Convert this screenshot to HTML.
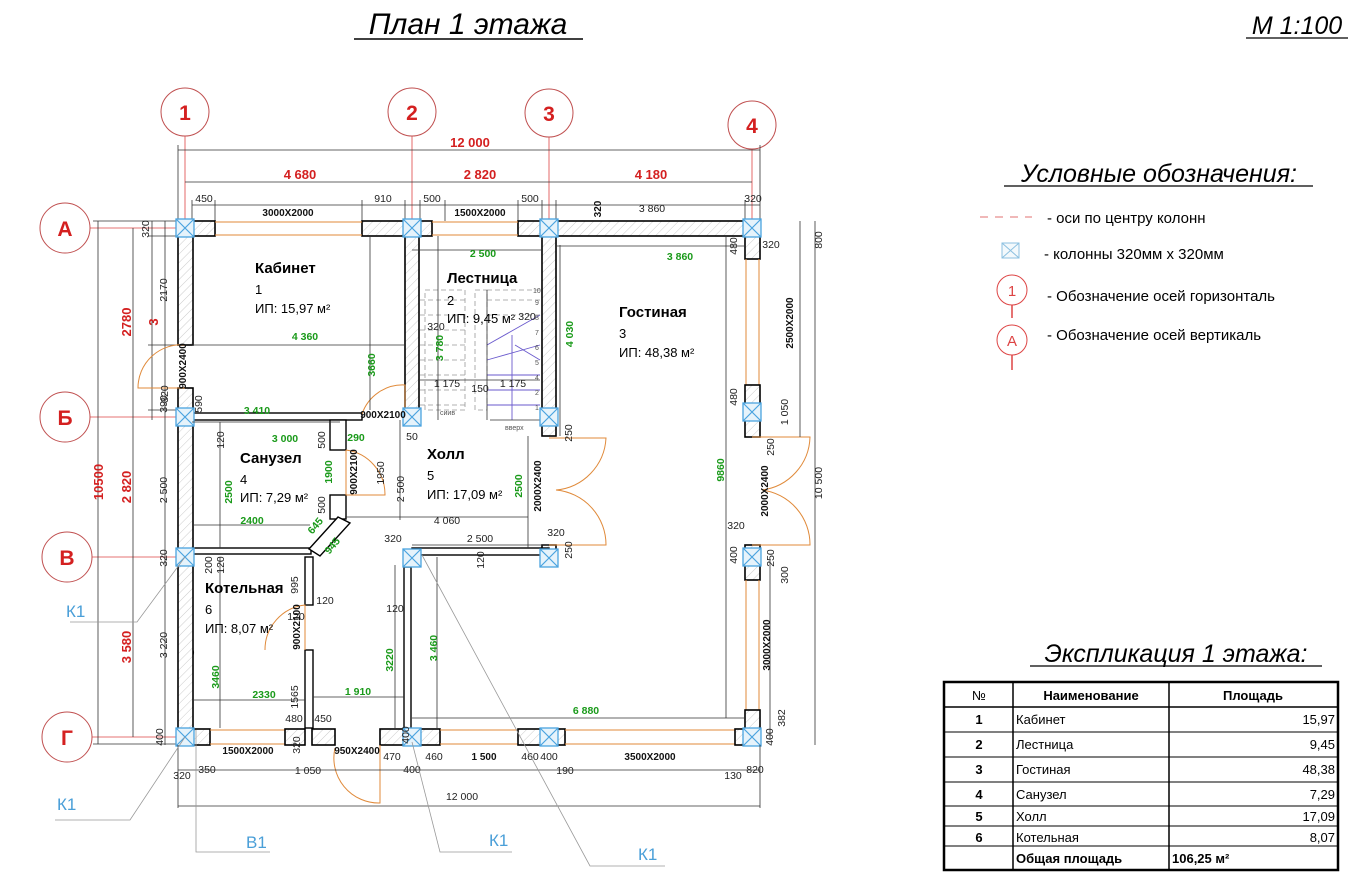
<!DOCTYPE html>
<html><head><meta charset="utf-8"><style>
body{margin:0;background:#fff;}
svg{display:block;font-family:"Liberation Sans",sans-serif;}
.w{fill:url(#h);stroke:#000;stroke-width:1.6}
.wt{fill:#fff;stroke:#000;stroke-width:1.4}
.d{stroke:#333;stroke-width:0.8;fill:none}
.t{font-size:10.5px;fill:#222}
.g{font-size:10.5px;fill:#1a9a1a;font-weight:bold}
.r{font-size:13px;fill:#d42020;font-weight:bold}
.b{font-size:10px;font-weight:bold;fill:#111}
.gl{stroke:#e08a3a;stroke-width:1;fill:none}
.ax{stroke:#d44;stroke-width:0.8}
.rm{font-size:15px;font-weight:bold}
.ri{font-size:13px}
.st{stroke:#999;stroke-width:0.8;stroke-dasharray:5,3;fill:none}
.pu{stroke:#6a5acd;stroke-width:0.9;fill:none}
.k{font-size:17px;fill:#4a9fd8}
.ld{stroke:#999;stroke-width:0.8;fill:none}
</style></head><body>
<svg width="1350" height="880" viewBox="0 0 1350 880">
<defs>
<pattern id="h" width="6" height="6" patternUnits="userSpaceOnUse" patternTransform="rotate(45)"><rect width="6" height="6" fill="#fff"/><line x1="0" y1="0" x2="0" y2="6" stroke="#ccc" stroke-width="1"/></pattern>
<g id="col"><rect x="-9" y="-9" width="18" height="18" fill="#e6f3fb" stroke="#4aa3df" stroke-width="1.3"/><path d="M-9,-9L9,9M9,-9L-9,9" stroke="#4aa3df" stroke-width="1.2"/></g>
</defs>

<!-- titles -->
<text x="468" y="34" font-size="30" font-style="italic" text-anchor="middle">План 1 этажа</text>
<line x1="354" y1="39" x2="583" y2="39" stroke="#000" stroke-width="1.5"/>
<text x="1297" y="34" font-size="25" font-style="italic" text-anchor="middle">М 1:100</text>
<line x1="1246" y1="38" x2="1348" y2="38" stroke="#000" stroke-width="1.3"/>

<!-- axis lines -->
<g class="ax">
<line x1="185" y1="136" x2="185" y2="228"/><line x1="412" y1="136" x2="412" y2="228"/><line x1="549" y1="137" x2="549" y2="228"/><line x1="752" y1="149" x2="752" y2="228"/>
<line x1="89" y1="228" x2="185" y2="228"/><line x1="89" y1="417" x2="185" y2="417"/><line x1="91" y1="557" x2="185" y2="557"/><line x1="91" y1="737" x2="185" y2="737"/>
</g>
<g fill="#fff" stroke="#c05050" stroke-width="1">
<circle cx="185" cy="112" r="24"/><circle cx="412" cy="112" r="24"/><circle cx="549" cy="113" r="24"/><circle cx="752" cy="125" r="24"/>
<circle cx="65" cy="228" r="25"/><circle cx="65" cy="417" r="25"/><circle cx="67" cy="557" r="25"/><circle cx="67" cy="737" r="25"/>
</g>
<g font-size="21" font-weight="bold" fill="#d42020" text-anchor="middle">
<text x="185" y="120">1</text><text x="412" y="120">2</text><text x="549" y="121">3</text><text x="752" y="133">4</text>
<text x="65" y="236">А</text><text x="65" y="425">Б</text><text x="67" y="565">В</text><text x="67" y="745">Г</text>
</g>

<!-- top dims -->
<g class="d">
<line x1="178" y1="150" x2="760" y2="150"/><line x1="178" y1="145" x2="178" y2="221"/><line x1="760" y1="145" x2="760" y2="221"/>
<line x1="185" y1="182" x2="752" y2="182"/>
<line x1="192" y1="205" x2="760" y2="205"/>
<line x1="192" y1="200" x2="192" y2="221"/><line x1="215" y1="200" x2="215" y2="221"/><line x1="362" y1="200" x2="362" y2="221"/><line x1="405" y1="200" x2="405" y2="221"/><line x1="420" y1="200" x2="420" y2="221"/><line x1="445" y1="200" x2="445" y2="221"/><line x1="518" y1="200" x2="518" y2="221"/><line x1="542" y1="200" x2="542" y2="221"/><line x1="556" y1="200" x2="556" y2="221"/><line x1="745" y1="200" x2="745" y2="221"/>
</g>
<text x="470" y="147" class="r" text-anchor="middle">12 000</text>
<text x="300" y="179" class="r" text-anchor="middle">4 680</text>
<text x="480" y="179" class="r" text-anchor="middle">2 820</text>
<text x="651" y="179" class="r" text-anchor="middle">4 180</text>
<g class="t" text-anchor="middle">
<text x="204" y="202">450</text><text x="383" y="202">910</text><text x="432" y="202">500</text><text x="530" y="202">500</text><text x="652" y="212">3 860</text><text x="753" y="202">320</text>
</g>
<text x="288" y="216" class="b" text-anchor="middle">3000X2000</text>
<text x="480" y="216" class="b" text-anchor="middle">1500X2000</text>
<text x="598" y="212" class="b" transform="rotate(-90 598 209)" text-anchor="middle">320</text>

<!-- left dims -->
<g class="d">
<line x1="98" y1="221" x2="98" y2="744"/><line x1="93" y1="221" x2="178" y2="221"/><line x1="93" y1="744" x2="178" y2="744"/>
<line x1="133" y1="228" x2="133" y2="737"/>
<line x1="152" y1="221" x2="152" y2="420"/><line x1="165" y1="221" x2="165" y2="745"/>
<line x1="148" y1="236" x2="178" y2="236"/><line x1="148" y1="345" x2="178" y2="345"/><line x1="148" y1="388" x2="178" y2="388"/><line x1="148" y1="410" x2="178" y2="410"/>
</g>
<g class="r"><text transform="translate(103,482) rotate(-90)" text-anchor="middle">10500</text>
<text transform="translate(131,322) rotate(-90)" text-anchor="middle">2780</text>
<text transform="translate(131,487) rotate(-90)" text-anchor="middle">2 820</text>
<text transform="translate(131,647) rotate(-90)" text-anchor="middle">3 580</text></g>
<g class="t">
<text transform="translate(149,229) rotate(-90)" text-anchor="middle">320</text>
<text transform="translate(167,290) rotate(-90)" text-anchor="middle">2170</text>
<text transform="translate(167,404) rotate(-90)" text-anchor="middle">390</text>
<text transform="translate(167,490) rotate(-90)" text-anchor="middle">2 500</text>
<text transform="translate(167,558) rotate(-90)" text-anchor="middle">320</text>
<text transform="translate(167,645) rotate(-90)" text-anchor="middle">3 220</text>
<text transform="translate(163,737) rotate(-90)" text-anchor="middle">400</text>
<text x="177" y="656">320</text>
</g>
<text transform="translate(158,322) rotate(-90)" class="r" font-size="11" text-anchor="middle">3</text>

<!-- walls outer -->
<rect class="w" x="178" y="221" width="37" height="15"/>
<rect class="w" x="362" y="221" width="70" height="15"/>
<rect class="w" x="518" y="221" width="242" height="15"/>
<line class="gl" x1="215" y1="222" x2="362" y2="222"/><line class="gl" x1="215" y1="235" x2="362" y2="235"/>
<line class="gl" x1="432" y1="222" x2="518" y2="222"/><line class="gl" x1="432" y1="235" x2="518" y2="235"/>
<rect class="w" x="178" y="221" width="15" height="124"/>
<rect class="w" x="178" y="388" width="15" height="357"/>
<path class="gl" d="M185,345 A43,43 0 0 0 138,388 L185,388"/>
<!-- right wall -->
<rect class="w" x="745" y="221" width="15" height="38"/>
<line class="gl" x1="746" y1="259" x2="746" y2="385"/><line class="gl" x1="759" y1="259" x2="759" y2="385"/>
<rect class="w" x="745" y="385" width="15" height="52"/>
<rect class="w" x="745" y="545" width="15" height="35"/>
<line class="gl" x1="746" y1="580" x2="746" y2="710"/><line class="gl" x1="759" y1="580" x2="759" y2="710"/>
<rect class="w" x="745" y="710" width="15" height="35"/>
<path class="gl" d="M752,437 L810,437 A55,55 0 0 1 762,490 M752,545 L810,545 A55,55 0 0 0 762,490"/>
<!-- bottom wall -->
<rect class="w" x="178" y="729" width="32" height="16"/>
<line class="gl" x1="210" y1="730" x2="285" y2="730"/><line class="gl" x1="210" y1="744" x2="285" y2="744"/>
<rect class="w" x="285" y="729" width="20" height="16"/>
<rect class="w" x="312" y="729" width="23" height="16"/>
<rect class="w" x="380" y="729" width="60" height="16"/>
<line class="gl" x1="440" y1="730" x2="518" y2="730"/><line class="gl" x1="440" y1="744" x2="518" y2="744"/>
<rect class="w" x="518" y="729" width="47" height="16"/>
<line class="gl" x1="565" y1="730" x2="735" y2="730"/><line class="gl" x1="565" y1="744" x2="735" y2="744"/>
<rect class="w" x="735" y="729" width="25" height="16"/>
<path class="gl" d="M380,745 L380,803 A45,45 0 0 1 335,748"/>

<!-- interior walls -->
<rect class="w" x="405" y="236" width="14" height="174"/>
<rect class="w" x="542" y="236" width="14" height="200"/>
<rect class="w" x="542" y="545" width="14" height="14"/>
<rect class="wt" x="193" y="413" width="169" height="7"/>
<path class="gl" d="M405,414 L405,385 A43,43 0 0 0 362,414"/>
<rect class="wt" x="193" y="548" width="118" height="6"/>
<rect class="wt" x="330" y="420" width="16" height="30"/>
<rect class="wt" x="330" y="495" width="16" height="24"/>
<path class="gl" d="M346,450 L346,495 L385,495 A45,45 0 0 0 346,450"/>
<polygon class="wt" points="338,517 350,523 320,556 309,549"/>
<rect class="wt" x="305" y="557" width="8" height="48"/>
<rect class="wt" x="305" y="650" width="8" height="78"/>
<path class="gl" d="M305,650 L305,605 A45,45 0 0 0 265,650"/>
<rect class="wt" x="404" y="567" width="7" height="162"/>
<rect class="wt" x="412" y="548" width="137" height="7"/>
<path class="gl" d="M549,438 L606,438 A55,55 0 0 1 556,490 M549,545 L606,545 A55,55 0 0 0 556,490"/>

<!-- stairs -->
<g>
<rect class="st" x="425" y="290" width="40" height="120"/>
<rect class="st" x="475" y="290" width="12" height="120"/>
<g class="st"><line x1="420" y1="300" x2="465" y2="300"/><line x1="420" y1="315" x2="465" y2="315"/><line x1="420" y1="330" x2="465" y2="330"/><line x1="420" y1="345" x2="465" y2="345"/><line x1="420" y1="360" x2="465" y2="360"/><line x1="420" y1="375" x2="465" y2="375"/><line x1="420" y1="390" x2="465" y2="390"/><line x1="420" y1="405" x2="465" y2="405"/>
<line x1="487" y1="290" x2="540" y2="290"/><line x1="487" y1="300" x2="540" y2="300"/><line x1="487" y1="315" x2="540" y2="315"/></g>
<g class="pu"><line x1="487" y1="345" x2="540" y2="315"/><line x1="487" y1="360" x2="540" y2="345"/><line x1="515" y1="345" x2="540" y2="360"/><line x1="487" y1="375" x2="540" y2="375"/><line x1="487" y1="390" x2="540" y2="390"/><line x1="487" y1="405" x2="540" y2="405"/><line x1="512" y1="335" x2="512" y2="420"/></g>
<g class="d"><line x1="487" y1="290" x2="487" y2="420"/><line x1="490" y1="420" x2="540" y2="420"/><line x1="420" y1="380" x2="540" y2="380"/><line x1="412" y1="250" x2="542" y2="250"/><line x1="438" y1="236" x2="438" y2="420"/></g>
<g font-size="7" fill="#555"><text x="533" y="293">10</text><text x="535" y="305">9</text><text x="535" y="320">8</text><text x="535" y="335">7</text><text x="535" y="350">6</text><text x="535" y="365">5</text><text x="535" y="380">4</text><text x="535" y="395">2</text><text x="535" y="410">1</text><text x="505" y="430">вверх</text><text x="440" y="415">сиив</text></g>
</g>

<!-- columns -->
<g>
<use href="#col" x="185" y="228"/><use href="#col" x="412" y="228"/><use href="#col" x="549" y="228"/><use href="#col" x="752" y="228"/>
<use href="#col" x="185" y="417"/><use href="#col" x="412" y="417"/><use href="#col" x="549" y="417"/><use href="#col" x="752" y="412"/>
<use href="#col" x="185" y="557"/><use href="#col" x="412" y="558"/><use href="#col" x="549" y="558"/><use href="#col" x="752" y="557"/>
<use href="#col" x="185" y="737"/><use href="#col" x="412" y="737"/><use href="#col" x="549" y="737"/><use href="#col" x="752" y="737"/>
</g>

<!-- inner dim lines -->
<g class="d">
<line x1="192" y1="345" x2="405" y2="345"/>
<line x1="370" y1="236" x2="370" y2="410"/>
<line x1="192" y1="422" x2="340" y2="422"/>
<line x1="220" y1="422" x2="220" y2="548"/>
<line x1="192" y1="525" x2="310" y2="525"/>
<line x1="400" y1="420" x2="400" y2="520"/>
<line x1="345" y1="517" x2="528" y2="517"/>
<line x1="528" y1="436" x2="528" y2="548"/>
<line x1="412" y1="545" x2="549" y2="545"/>
<line x1="220" y1="557" x2="220" y2="728"/>
<line x1="192" y1="700" x2="305" y2="700"/>
<line x1="313" y1="697" x2="404" y2="697"/>
<line x1="395" y1="565" x2="395" y2="728"/>
<line x1="437" y1="557" x2="437" y2="728"/>
<line x1="412" y1="718" x2="745" y2="718"/>
<line x1="556" y1="246" x2="745" y2="246"/>
<line x1="726" y1="236" x2="726" y2="718"/>
<line x1="800" y1="221" x2="800" y2="437"/>
<line x1="815" y1="221" x2="815" y2="745"/>
<line x1="770" y1="560" x2="770" y2="740"/>
<line x1="560" y1="245" x2="560" y2="436"/>
<line x1="178" y1="806" x2="760" y2="806"/>
<line x1="178" y1="770" x2="760" y2="770"/>
<line x1="178" y1="745" x2="178" y2="808"/><line x1="760" y1="745" x2="760" y2="808"/>
</g>

<!-- green dims -->
<g class="g" text-anchor="middle">
<text x="305" y="340">4 360</text><text x="483" y="257">2 500</text><text x="680" y="260">3 860</text>
<text x="257" y="414">3 410</text><text x="285" y="442">3 000</text><text x="356" y="441">290</text>
<text x="252" y="524">2400</text><text x="264" y="698">2330</text><text x="358" y="695">1 910</text>
<text x="586" y="714">6 880</text>
<text transform="translate(375,365) rotate(-90)">3660</text>
<text transform="translate(443,348) rotate(-90)">3 780</text>
<text transform="translate(573,334) rotate(-90)">4 030</text>
<text transform="translate(232,492) rotate(-90)">2500</text>
<text transform="translate(332,472) rotate(-90)">1900</text>
<text transform="translate(522,486) rotate(-90)">2500</text>
<text transform="translate(219,677) rotate(-90)">3460</text>
<text transform="translate(393,660) rotate(-90)">3220</text>
<text transform="translate(437,648) rotate(-90)">3 460</text>
<text transform="translate(724,470) rotate(-90)">9860</text>
<text transform="translate(318,528) rotate(-50)">645</text>
<text transform="translate(335,548) rotate(-50)">945</text>
</g>
<!-- black dims -->
<g class="t" text-anchor="middle">
<text x="412" y="440">50</text><text x="447" y="524">4 060</text><text x="480" y="542">2 500</text>
<text x="393" y="542">320</text><text x="556" y="536">320</text><text x="736" y="529">320</text><text x="771" y="248">320</text>
<text x="296" y="620">120</text><text x="395" y="612">120</text><text x="325" y="604">120</text>
<text x="294" y="722">480</text><text x="323" y="722">450</text>
<text x="436" y="330">320</text><text x="527" y="320">320</text>
<text x="447" y="387">1 175</text><text x="513" y="387">1 175</text><text x="480" y="392">150</text>
<text x="462" y="800">12 000</text>
<text x="182" y="779">320</text><text x="207" y="773">350</text><text x="308" y="774">1 050</text>
<text x="392" y="760">470</text><text x="412" y="773">400</text><text x="434" y="760">460</text><text x="530" y="760">460</text><text x="549" y="760">400</text><text x="565" y="774">190</text><text x="733" y="779">130</text><text x="755" y="773">820</text>
<text transform="translate(168,394) rotate(-90)">320</text>
<text transform="translate(202,404) rotate(-90)">590</text>
<text transform="translate(224,440) rotate(-90)">120</text>
<text transform="translate(212,565) rotate(-90)">200</text>
<text transform="translate(224,565) rotate(-90)">120</text>
<text transform="translate(298,585) rotate(-90)">995</text>
<text transform="translate(298,697) rotate(-90)">1565</text>
<text transform="translate(325,440) rotate(-90)">500</text>
<text transform="translate(325,505) rotate(-90)">500</text>
<text transform="translate(384,473) rotate(-90)">1950</text>
<text transform="translate(404,489) rotate(-90)">2 500</text>
<text transform="translate(300,745) rotate(-90)">320</text>
<text transform="translate(409,735) rotate(-90)">400</text>
<text transform="translate(484,560) rotate(-90)">120</text>
<text transform="translate(572,433) rotate(-90)">250</text>
<text transform="translate(572,550) rotate(-90)">250</text>
<text transform="translate(737,246) rotate(-90)">480</text>
<text transform="translate(737,397) rotate(-90)">480</text>
<text transform="translate(737,555) rotate(-90)">400</text>
<text transform="translate(774,447) rotate(-90)">250</text>
<text transform="translate(774,558) rotate(-90)">250</text>
<text transform="translate(788,575) rotate(-90)">300</text>
<text transform="translate(788,412) rotate(-90)">1 050</text>
<text transform="translate(822,240) rotate(-90)">800</text>
<text transform="translate(822,483) rotate(-90)">10 500</text>
<text transform="translate(773,737) rotate(-90)">400</text>
<text transform="translate(785,718) rotate(-90)">382</text>
</g>
<g class="b" text-anchor="middle">
<text transform="translate(186,366) rotate(-90)">900X2400</text>
<text x="383" y="418">900X2100</text>
<text transform="translate(357,472) rotate(-90)">900X2100</text>
<text transform="translate(300,627) rotate(-90)">900X2100</text>
<text transform="translate(541,486) rotate(-90)">2000X2400</text>
<text transform="translate(768,491) rotate(-90)">2000X2400</text>
<text transform="translate(793,323) rotate(-90)">2500X2000</text>
<text transform="translate(770,645) rotate(-90)">3000X2000</text>
<text x="248" y="754">1500X2000</text><text x="357" y="754">950X2400</text><text x="484" y="760">1 500</text><text x="650" y="760">3500X2000</text>
</g>

<!-- rooms -->
<text x="255" y="273" class="rm">Кабинет</text><text x="255" y="294" class="ri">1</text><text x="255" y="313" class="ri">ИП: 15,97 м²</text>
<text x="447" y="283" class="rm">Лестница</text><text x="447" y="305" class="ri">2</text><text x="447" y="323" class="ri">ИП: 9,45 м²</text>
<text x="619" y="317" class="rm">Гостиная</text><text x="619" y="338" class="ri">3</text><text x="619" y="357" class="ri">ИП: 48,38 м²</text>
<text x="240" y="463" class="rm">Санузел</text><text x="240" y="484" class="ri">4</text><text x="240" y="502" class="ri">ИП: 7,29 м²</text>
<text x="427" y="459" class="rm">Холл</text><text x="427" y="480" class="ri">5</text><text x="427" y="499" class="ri">ИП: 17,09 м²</text>
<text x="205" y="593" class="rm">Котельная</text><text x="205" y="614" class="ri">6</text><text x="205" y="633" class="ri">ИП:    8,07 м²</text>

<!-- leaders -->
<g class="ld">
<polyline points="185,557 137,622 70,622"/>
<polyline points="185,737 130,820 55,820"/>
<polyline points="196,730 196,852 270,852"/>
<polyline points="412,742 440,852 512,852"/>
<polyline points="422,555 590,866 665,866"/>
</g>
<g class="k"><text x="66" y="617">К1</text><text x="57" y="810">К1</text><text x="246" y="848">В1</text><text x="489" y="846">К1</text><text x="638" y="860">К1</text></g>

<!-- legend -->
<text x="1159" y="182" font-size="25" font-style="italic" text-anchor="middle">Условные обозначения:</text>
<line x1="1004" y1="186" x2="1313" y2="186" stroke="#000" stroke-width="1.3"/>
<line x1="980" y1="217" x2="1032" y2="217" stroke="#e07070" stroke-dasharray="8,7"/>
<text x="1047" y="223" font-size="15">- оси по центру колонн</text>
<rect x="1002" y="243" width="17" height="15" fill="#f3f9fc" stroke="#8cc0e0"/><path d="M1002,243L1019,258M1019,243L1002,258" stroke="#8cc0e0"/>
<text x="1044" y="259" font-size="15">- колонны 320мм x 320мм</text>
<circle cx="1012" cy="290" r="15" fill="none" stroke="#d44"/><text x="1012" y="296" font-size="15" fill="#d44" text-anchor="middle">1</text><line x1="1012" y1="305" x2="1012" y2="318" stroke="#d44" stroke-width="1.5"/>
<text x="1047" y="301" font-size="15">- Обозначение осей горизонталь</text>
<circle cx="1012" cy="340" r="15" fill="none" stroke="#d44"/><text x="1012" y="346" font-size="15" fill="#d44" text-anchor="middle">А</text><line x1="1012" y1="355" x2="1012" y2="370" stroke="#d44" stroke-width="1.5"/>
<text x="1047" y="340" font-size="15">- Обозначение осей вертикаль</text>

<!-- table -->
<text x="1176" y="662" font-size="25" font-style="italic" text-anchor="middle">Экспликация 1 этажа:</text>
<line x1="1030" y1="666" x2="1322" y2="666" stroke="#000" stroke-width="1.3"/>
<g stroke="#000" fill="none">
<rect x="944" y="682" width="394" height="188" stroke-width="2.5"/>
<line x1="1013" y1="682" x2="1013" y2="870" stroke-width="1.5"/>
<line x1="1169" y1="682" x2="1169" y2="870" stroke-width="1.5"/>
<line x1="944" y1="707" x2="1338" y2="707" stroke-width="1.5"/>
<line x1="944" y1="732" x2="1338" y2="732"/><line x1="944" y1="757" x2="1338" y2="757"/><line x1="944" y1="782" x2="1338" y2="782"/><line x1="944" y1="806" x2="1338" y2="806"/><line x1="944" y1="826" x2="1338" y2="826"/><line x1="944" y1="846" x2="1338" y2="846"/>
</g>
<g font-size="13">
<text x="979" y="700" text-anchor="middle">№</text><text x="1091" y="700" font-weight="bold" text-anchor="middle">Наименование</text><text x="1253" y="700" font-weight="bold" text-anchor="middle">Площадь</text>
<g font-weight="bold" text-anchor="middle"><text x="979" y="724">1</text><text x="979" y="749">2</text><text x="979" y="774">3</text><text x="979" y="799">4</text><text x="979" y="821">5</text><text x="979" y="842">6</text></g>
<text x="1016" y="724">Кабинет</text><text x="1016" y="749">Лестница</text><text x="1016" y="774">Гостиная</text><text x="1016" y="799">Санузел</text><text x="1016" y="821">Холл</text><text x="1016" y="842">Котельная</text>
<text x="1016" y="863" font-weight="bold">Общая площадь</text>
<g text-anchor="end"><text x="1335" y="724">15,97</text><text x="1335" y="749">9,45</text><text x="1335" y="774">48,38</text><text x="1335" y="799">7,29</text><text x="1335" y="821">17,09</text><text x="1335" y="842">8,07</text></g>
<text x="1172" y="863" font-weight="bold">106,25 м²</text>
</g>
</svg>
</body></html>
